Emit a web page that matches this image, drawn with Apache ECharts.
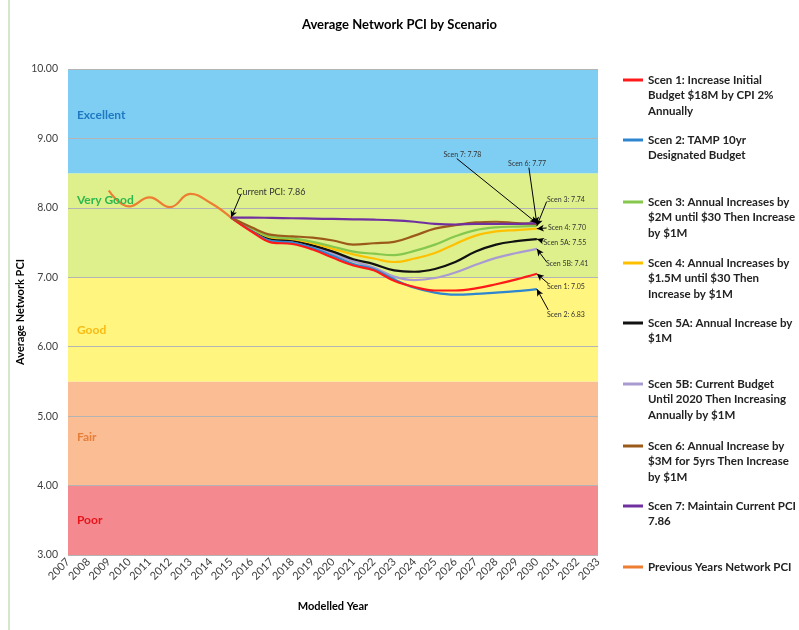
<!DOCTYPE html>
<html>
<head>
<meta charset="utf-8">
<script src="https://cdn.jsdelivr.net/npm/echarts@6/dist/echarts.min.js"></script>
<style>
    html, body { margin: 0; padding: 0; background: #fff; }
    #chart { width: 799px; height: 630px; }
</style>
</head>
<body>
<div id="chart"></div>
<script>
var prevYears = [2009, 2010, 2011, 2012, 2013, 2014, 2015];
var prevPCI = [8.25, 8.02, 8.15, 8.01, 8.20, 8.07, 7.86];

var scenYears = [2015, 2016, 2017, 2018, 2019, 2020, 2021, 2022, 2023, 2024, 2025, 2026, 2027, 2028, 2029, 2030];
var scen1 = [7.86, 7.66, 7.50, 7.48, 7.40, 7.28, 7.17, 7.10, 6.95, 6.86, 6.81, 6.81, 6.84, 6.90, 6.97, 7.05];
var scen2 = [7.86, 7.67, 7.52, 7.50, 7.42, 7.31, 7.19, 7.12, 6.97, 6.85, 6.78, 6.75, 6.76, 6.78, 6.80, 6.83];
var scen3 = [7.86, 7.71, 7.58, 7.56, 7.51, 7.44, 7.37, 7.34, 7.32, 7.38, 7.47, 7.59, 7.68, 7.72, 7.73, 7.74];
var scen4 = [7.86, 7.70, 7.57, 7.55, 7.49, 7.41, 7.33, 7.27, 7.22, 7.27, 7.35, 7.48, 7.60, 7.66, 7.68, 7.70];
var scen5A = [7.86, 7.69, 7.55, 7.53, 7.46, 7.37, 7.26, 7.19, 7.10, 7.08, 7.12, 7.22, 7.37, 7.47, 7.52, 7.55];
var scen5B = [7.86, 7.68, 7.54, 7.51, 7.44, 7.34, 7.23, 7.14, 7.01, 6.96, 6.99, 7.07, 7.18, 7.28, 7.35, 7.41];
var scen6 = [7.86, 7.72, 7.61, 7.59, 7.57, 7.53, 7.47, 7.49, 7.51, 7.60, 7.70, 7.75, 7.79, 7.80, 7.78, 7.77];
var scen7 = [7.86, 7.86, 7.855, 7.85, 7.845, 7.84, 7.835, 7.83, 7.82, 7.80, 7.77, 7.76, 7.77, 7.77, 7.77, 7.78];

var bandNames = ['Poor', 'Fair', 'Good', 'Very Good', 'Excellent'];
var bandFrom = [3, 4, 5.5, 7, 8.5];
var bandTo = [4, 5.5, 7, 8.5, 10];

var seriesNames = [
    'Scen 1: Increase Initial\nBudget $18M by CPI 2%\nAnnually',
    'Scen 2: TAMP 10yr\nDesignated Budget',
    'Scen 3: Annual Increases by\n$2M until $30 Then Increase\nby $1M',
    'Scen 4: Annual Increases by\n$1.5M until $30 Then\nIncrease by $1M',
    'Scen 5A: Annual Increase by\n$1M',
    'Scen 5B: Current Budget\nUntil 2020 Then Increasing\nAnnually by $1M',
    'Scen 6: Annual Increase by\n$3M for 5yrs Then Increase\nby $1M',
    'Scen 7: Maintain Current PCI\n7.86',
    'Previous Years Network PCI'
];

var FONT = 'Lato';
var bandColors = ['#F4898F', '#FABD94', '#FFF57F', '#DDF08C', '#7ECEF4'];
var bandTextColors = ['#E8141C', '#E57F3A', '#F8BC14', '#2DB84D', '#1E78C2'];
var bandLabelPos = [3.5, 4.7, 6.24, 8.11, 9.34];

function pairs(xs, ys) {
    return xs.map(function (x, i) { return [x, ys[i]]; });
}

function last(arr) { return arr[arr.length - 1]; }

// arrow + text for the value at the end of a scenario
function note(label, values, from, textAt, pos) {
    var endYear = last(scenYears);
    return {
        markLine: {
            silent: true,
            symbol: ['none', 'arrow'],
            symbolSize: [5, 7],
            lineStyle: { color: '#000', width: 1, type: 'solid' },
            label: { show: false },
            data: [[{ coord: from }, { coord: [endYear, last(values)] }]]
        },
        markPoint: {
            silent: true,
            symbol: 'circle',
            symbolSize: 0,
            label: {
                show: true, position: pos || 'right', distance: 0,
                formatter: label + ': ' + last(values).toFixed(2),
                color: '#333', fontSize: 7, fontFamily: FONT
            },
            data: [{ coord: textAt }]
        }
    };
}

var chart = echarts.init(document.getElementById('chart'));

var scenData = [scen1, scen2, scen3, scen4, scen5A, scen5B, scen6, scen7];
var scenColors = ['#FF1A1A', '#2E86D1', '#86C84E', '#FFC000', '#111111', '#A99BD1', '#9C5A1A', '#7030A0'];
var notes = [
    note('Scen 1', scen1, [2030.56, 6.91], [2030.5, 6.86]),
    note('Scen 2', scen2, [2030.56, 6.53], [2030.5, 6.46]),
    note('Scen 3', scen3, [2030.48, 8.09], [2030.5, 8.12]),
    note('Scen 4', scen4, [2030.48, 7.71], [2030.55, 7.715]),
    note('Scen 5A', scen5A, [2030.33, 7.52], [2030.33, 7.50]),
    note('Scen 5B', scen5B, [2030.48, 7.22], [2030.45, 7.19]),
    note('Scen 6', scen6, [2029.61, 8.58], [2029.52, 8.63], 'inside'),
    note('Scen 7', scen7, [2026.07, 8.71], [2026.35, 8.76], 'inside')
];

var series = [];

series.push({
    name: 'bands',
    type: 'line',
    z: 1,
    data: [],
    markArea: {
        silent: true,
        label: { show: false },
        data: bandNames.map(function (n, i) {
            return [{ yAxis: bandFrom[i], itemStyle: { color: bandColors[i] } }, { yAxis: bandTo[i] }];
        })
    },
    markPoint: {
        silent: true,
        symbol: 'circle',
        symbolSize: 0,
        data: bandNames.map(function (n, i) {
            return {
                coord: [2007.44, bandLabelPos[i]],
                label: {
                    show: true, position: 'right', distance: 0, formatter: n,
                    color: bandTextColors[i], fontSize: 12, fontWeight: 'bold', fontFamily: FONT
                }
            };
        })
    }
});

var order = [5, 4, 3, 2, 1, 0, 6, 7];
order.forEach(function (i) {
    var s = {
        name: seriesNames[i],
        type: 'line',
        z: 3,
        smooth: 0.4,
        showSymbol: false,
        color: scenColors[i],
        lineStyle: { width: 2.2 },
        data: pairs(scenYears, scenData[i])
    };
    s.markLine = notes[i].markLine;
    s.markPoint = notes[i].markPoint;
    series.push(s);
});

series.push({
    name: seriesNames[8],
    type: 'line',
    z: 3,
    smooth: 0.45,
    showSymbol: false,
    color: '#ED7D31',
    lineStyle: { width: 2.2 },
    data: pairs(prevYears, prevPCI),
    markLine: {
        silent: true,
        symbol: ['none', 'arrow'],
        symbolSize: [5, 7],
        lineStyle: { color: '#000', width: 1, type: 'solid' },
        label: { show: false },
        data: [[{ coord: [2015.47, 8.185] }, { coord: [last(prevYears), last(prevPCI)] }]]
    },
    markPoint: {
        silent: true,
        symbol: 'circle',
        symbolSize: 0,
        label: {
            show: true, position: 'right', distance: 0,
            formatter: 'Current PCI: ' + last(prevPCI).toFixed(2),
            color: '#333', fontSize: 9, fontFamily: FONT
        },
        data: [{ coord: [2015.27, 8.23] }]
    }
});

// one legend per entry so each sits in its own slot; blank lines in front
// push the first text line level with the swatch
var legendTops = [80, 140, 202, 263, 323, 384, 446, 506, 567];
var LH = 15.5;
var legends = seriesNames.map(function (n, i) {
    var lines = n.split('\n').length;
    var pad = new Array(lines).join('\n');
    return {
        left: 623,
        top: legendTops[i] - (2 * lines - 1) * LH / 2,
        padding: 0,
        orient: 'vertical',
        icon: 'rect',
        itemWidth: 20,
        itemHeight: 3,
        formatter: function (name) { return pad + name; },
        textStyle: {
            fontFamily: FONT, fontSize: 11.5, fontWeight: 'bold', color: '#222', lineHeight: LH
        },
        data: [n]
    };
});

chart.setOption({
    animation: false,
    backgroundColor: '#fff',
    title: {
        text: 'Average Network PCI by Scenario',
        left: 'center',
        top: 13,
        textStyle: { fontFamily: FONT, fontSize: 13, fontWeight: 'bold', color: '#000' }
    },
    legend: legends,
    grid: { left: 68, right: 201, top: 69, bottom: 75 },
    xAxis: {
        type: 'value',
        min: 2007,
        max: 2033,
        interval: 1,
        name: 'Modelled Year',
        nameLocation: 'middle',
        nameGap: 46,
        nameTextStyle: { fontFamily: FONT, fontSize: 11, fontWeight: 'bold', color: '#000' },
        axisLine: { show: false },
        axisTick: { show: false },
        splitLine: { show: false },
        axisLabel: {
            rotate: 45,
            margin: 5,
            fontFamily: FONT,
            fontSize: 11,
            color: '#404040',
            formatter: function (v) { return String(v); }
        }
    },
    yAxis: {
        type: 'value',
        min: 3,
        max: 10,
        interval: 1,
        z: 2,
        name: 'Average Network PCI',
        nameLocation: 'middle',
        nameGap: 42,
        nameMoveOverlap: false,
        nameTextStyle: { fontFamily: FONT, fontSize: 11, fontWeight: 'bold', color: '#000' },
        axisLine: { show: false },
        axisTick: { show: false },
        splitLine: { lineStyle: { color: '#B4B4B4', width: 1 } },
        axisLabel: {
            margin: 10,
            fontFamily: FONT,
            fontSize: 10.5,
            color: '#404040',
            formatter: function (v) { return v.toFixed(2); }
        }
    },
    graphic: [{
        type: 'line',
        shape: { x1: 9, y1: 0, x2: 9, y2: 630 },
        style: { stroke: '#A9D18E', lineWidth: 1 }
    }],
    series: series
});
</script>
</body>
</html>
